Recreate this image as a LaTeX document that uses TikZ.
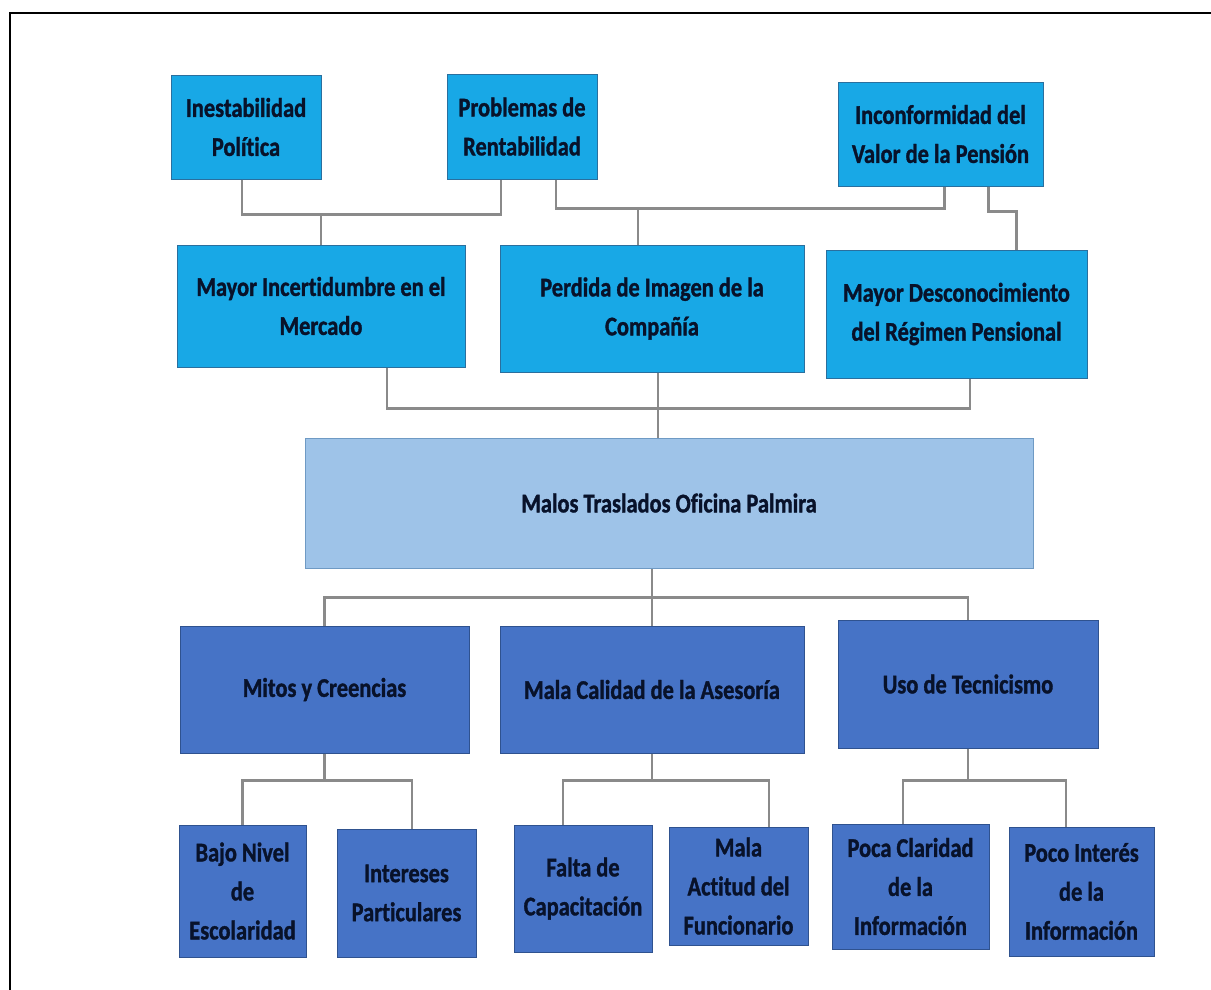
\documentclass[tikz,border=0pt]{standalone}
\usepackage{fontspec}
\setmainfont[FakeStretch=0.83, Ligatures=NoCommon, BoldFeatures={FakeBold=1.2}]{Carlito}
\usetikzlibrary{calc}
\definecolor{cyanbox}{HTML}{18A8E6}
\definecolor{cyanline}{HTML}{2A6F9E}
\definecolor{lightbox}{HTML}{9EC3E8}
\definecolor{lightline}{HTML}{6F9AC4}
\definecolor{darkbox}{HTML}{4673C6}
\definecolor{darkline}{HTML}{2F528F}
\definecolor{inktext}{HTML}{08122A}
\definecolor{connector}{HTML}{8A8A8A}
\tikzset{
  box/.style={rectangle, inner sep=0pt, line width=1pt, align=center,
    text=inktext, font=\bfseries\fontsize{27}{39}\selectfont},
  effect/.style={box, fill=cyanbox, draw=cyanline},
  core/.style={box, fill=lightbox, draw=lightline},
  cause/.style={box, fill=darkbox, draw=darkline},
  conn/.style={draw=connector, line width=2.2pt},
}
\begin{document}
\begin{tikzpicture}[x=1pt, y=-1pt]
\useasboundingbox (0,0) rectangle (1211,989);
% frame
\draw[line width=2.5pt] (10,995) -- (10,13) -- (1215,13);

% effects, upper level
\node[effect, minimum width=150pt, minimum height=104pt] (ine) at (246,127) {Inestabilidad\\Política};
\node[effect, minimum width=150pt, minimum height=105pt] (pro) at (522,126.5) {Problemas de\\Rentabilidad};
\node[effect, minimum width=205pt, minimum height=104pt] (inc) at (940.5,134) {Inconformidad del\\Valor de la Pensión};

% effects, lower level
\node[effect, minimum width=288pt, minimum height=122pt] (mer) at (321,306) {Mayor Incertidumbre en el\\Mercado};
\node[effect, minimum width=304pt, minimum height=127pt] (ima) at (652,308.5) {Perdida de Imagen de la\\Compañía};
\node[effect, minimum width=261pt, minimum height=128pt] (des) at (956.5,314) {Mayor Desconocimiento\\del Régimen Pensional};

% central problem
\node[core, minimum width=728pt, minimum height=130pt] (cen) at (669,503) {Malos Traslados Oficina Palmira};

% causes
\node[cause, minimum width=289pt, minimum height=127pt] (mit) at (324.5,689.5) {Mitos y Creencias};
\node[cause, minimum width=304pt, minimum height=127pt] (cal) at (652,689.5) {Mala Calidad de la Asesoría};
\node[cause, minimum width=260pt, minimum height=128pt] (tec) at (968,684) {Uso de Tecnicismo};

% sub-causes
\node[cause, minimum width=127pt, minimum height=132pt] (baj) at (242.5,891) {Bajo Nivel\\de\\Escolaridad};
\node[cause, minimum width=139pt, minimum height=128pt] (int) at (406.5,893) {Intereses\\Particulares};
\node[cause, minimum width=138pt, minimum height=127pt] (fal) at (583,888.5) {Falta de\\Capacitación};
\node[cause, minimum width=139pt, minimum height=118pt] (act) at (738.5,886) {Mala\\Actitud del\\Funcionario};
\node[cause, minimum width=157pt, minimum height=125pt] (cla) at (910.5,886.5) {Poca Claridad\\de la\\Información};
\node[cause, minimum width=145pt, minimum height=129pt] (poc) at (1081.5,891.5) {Poco Interés\\de la\\Información};

% attachment points
\coordinate (ineB) at ([xshift=-4pt]ine.south);
\coordinate (proB1) at ([xshift=-21pt]pro.south);
\coordinate (proB2) at ([xshift=34pt]pro.south);
\coordinate (incB1) at ([xshift=4pt]inc.south);
\coordinate (incB2) at ([xshift=48pt]inc.south);
\coordinate (imaT) at ([xshift=-14pt]ima.north);
\coordinate (desT) at ([xshift=60pt]des.north);
\coordinate (merB) at ([xshift=66pt]mer.south);
\coordinate (imaB) at ([xshift=6pt]ima.south);
\coordinate (desB) at ([xshift=13.5pt]des.south);
\coordinate (intT) at ([xshift=5.5pt]int.north);
\coordinate (falT) at ([xshift=-20pt]fal.north);
\coordinate (actT) at ([xshift=30.5pt]act.north);
\coordinate (claT) at ([xshift=-7.5pt]cla.north);
\coordinate (pocT) at ([xshift=-15.5pt]poc.north);

% connectors between effects
\draw[conn] (ineB) -- ++(0,35) -| (proB1);
\draw[conn] (mer.north) -- ++(0,-31);
\draw[conn] (proB2) -- ++(0,29) -| (incB1);
\draw[conn] (imaT) -- ++(0,-37);
\draw[conn] (incB2) -- ++(0,25) -| (desT);

% effects to central problem
\draw[conn] (merB) -- ++(0,41) -| (desB);
\draw[conn] (imaB) -- (imaB |- cen.north);

% central problem to causes
\draw[conn] (cal.north |- cen.south) -- (cal.north);
\draw[conn] (mit.north) -- ++(0,-28) -| (tec.north);

% causes to sub-causes
\draw[conn] (mit.south) -- ++(0,27) coordinate (m1);
\draw[conn] (baj.north) -- (baj.north |- m1) -- (intT |- m1) -- (intT);
\draw[conn] (cal.south) -- ++(0,27) coordinate (c1);
\draw[conn] (falT) -- (falT |- c1) -- (actT |- c1) -- (actT);
\draw[conn] (tec.south) -- ++(0,32) coordinate (t1);
\draw[conn] (claT) -- (claT |- t1) -- (pocT |- t1) -- (pocT);
\end{tikzpicture}
\end{document}
